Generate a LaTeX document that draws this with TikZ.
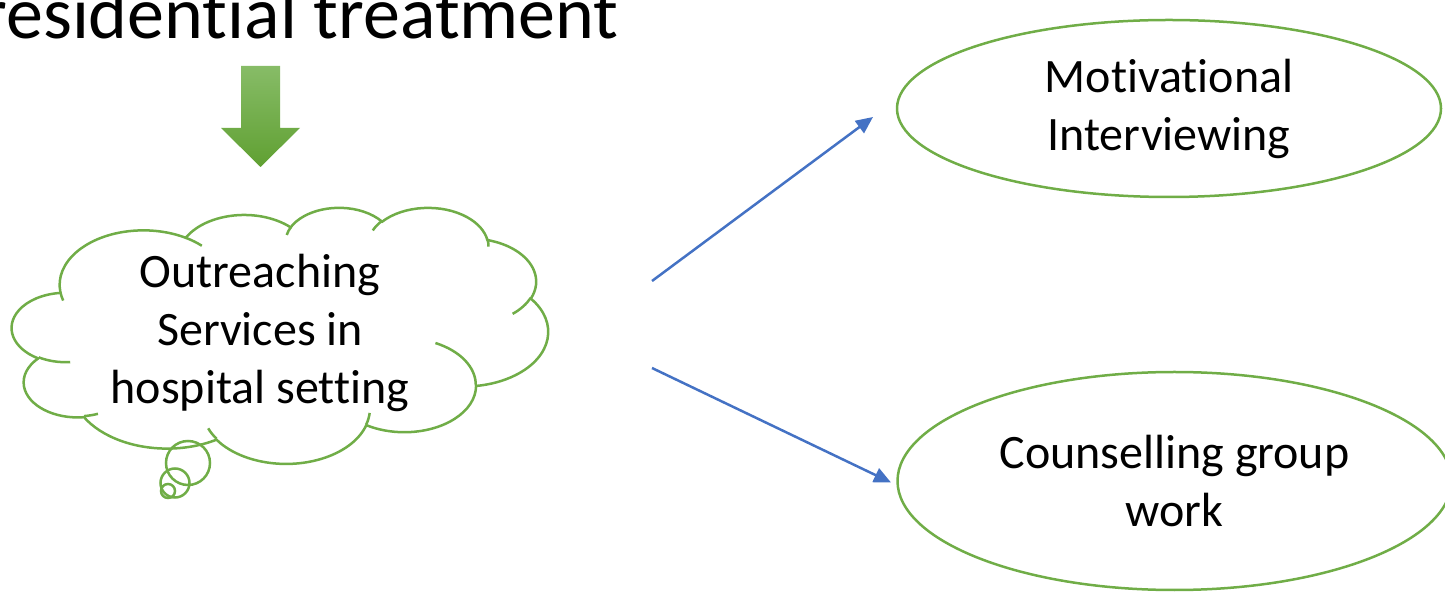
\documentclass[tikz,border=0pt]{standalone}
\usepackage{fontspec}
\setmainfont{Carlito}[Ligatures=NoCommon]
\usetikzlibrary{shapes.geometric,arrows.meta}
\definecolor{offgreen}{HTML}{70AD47}
\definecolor{offblue}{HTML}{4472C4}
\definecolor{arrowtop}{HTML}{87BC67}
\definecolor{arrowbot}{HTML}{60A032}
\tikzset{
  pa/.style n args={4}{x radius=#1, y radius=#2,
    start angle={atan2((#1)*sin(#3),(#2)*cos(#3))},
    delta angle={mod(atan2((#1)*sin((#3)+(#4)),(#2)*cos((#3)+(#4)))-atan2((#1)*sin(#3),(#2)*cos(#3))+720,360)}},
  cloudline/.style={draw=offgreen, line width=1.25pt},
  ovalbox/.style={ellipse, draw=offgreen, line width=1.25pt, align=center,
    font=\fontsize{24}{29}\selectfont, inner sep=0pt},
  bodytext/.style={align=center, font=\fontsize{24}{29}\selectfont, inner sep=0pt},
  connector/.style={draw=offblue, line width=1.25pt, -{Triangle[length=8.5pt,width=7.5pt]}}
}
\begin{document}
\begin{tikzpicture}[x=0.5pt,y=-0.5pt]
\useasboundingbox (0,0) rectangle (1445,592);
\clip (0,0) rectangle (1445,592);
% title
\node[anchor=base west, inner sep=0pt, font=\fontsize{37}{44}\selectfont] (title) at (-19,39) {residential treatment};
% green block arrow
\shade[top color=arrowtop, bottom color=arrowbot]
  (241,66) -- (280,66) -- (280,128) -- (300,128) -- (260.5,167) -- (221,128) -- (241,128) -- cycle;
% cloud
\begin{scope}[shift={(12,207)}, xscale=536/432, yscale=256/432]
  \filldraw[cloudline, fill=white] (39.00,143.70)
    arc[pa={67.53}{91.90}{-190.4875}{123.7805}]
    arc[pa={53.33}{72.67}{-144.1024}{89.9452}]
    arc[pa={43.65}{59.45}{-145.8079}{99.7230}]
    arc[pa={48.57}{65.95}{-130.9861}{117.2417}]
    arc[pa={53.33}{72.73}{-78.7089}{109.0269}]
    arc[pa={67.75}{92.20}{-46.2673}{130.2690}]
    arc[pa={57.85}{78.67}{0.6250}{114.0333}]
    arc[pa={67.52}{92.15}{22.4516}{115.1726}]
    arc[pa={77.20}{105.43}{66.2426}{75.7110}]
    arc[pa={43.60}{59.18}{-274.9421}{146.7356}]
    arc[pa={43.45}{59.45}{-246.8285}{152.5189}]
    -- cycle;
  \draw[cloudline]
    (46.93,261.77) arc[pa={43.45}{59.45}{86.7420}{26.4295}]
    (69.28,348.99) arc[pa={43.60}{59.18}{73.6105}{11.4475}]
    (164.78,390.90) arc[pa={67.52}{92.15}{137.6242}{14.0811}]
    (288.27,347.51) arc[pa={67.52}{92.15}{6.4533}{15.9984}]
    (341.29,229.54) arc[pa={57.85}{78.67}{-70.2924}{70.9174}]
    (417.98,153.54) arc[pa={53.33}{72.73}{30.3180}{27.7515}]
    (383.24,54.26) arc[pa={48.57}{65.95}{-13.7443}{14.8589}]
    (290.78,39.52) arc[pa={48.57}{65.95}{-149.1815}{18.1954}]
    (221.41,47.20) arc[pa={43.65}{59.45}{-163.4943}{17.6864}]
    (140.00,51.92) arc[pa={67.53}{91.90}{-66.7070}{12.3194}]
    (41.27,157.89) arc[pa={67.53}{91.90}{157.6544}{11.8582}];
\end{scope}
% thought bubbles
\draw[cloudline] (188,463) circle[radius=22];
\draw[cloudline] (175,483) circle[radius=14.5];
\draw[cloudline] (168,491) circle[radius=7];
\node[bodytext] (cloudtext) at (260,333) {Outreaching\\Services in\\hospital setting};
% ellipses
\node[ovalbox, minimum width=272pt, minimum height=88.5pt] (mi) at (1169,108.5) {Motivational\\Interviewing};
\node[ovalbox, minimum width=277pt, minimum height=109pt] (cg) at (1174.5,481) {Counselling group\\work};
% connectors
\coordinate (s1) at (652,281);
\coordinate (e1) at (873,117);
\coordinate (s2) at (652,368);
\coordinate (e2) at (891,482.5);
\draw[connector] (s1) -- (e1);
\draw[connector] (s2) -- (e2);
\end{tikzpicture}
\end{document}
